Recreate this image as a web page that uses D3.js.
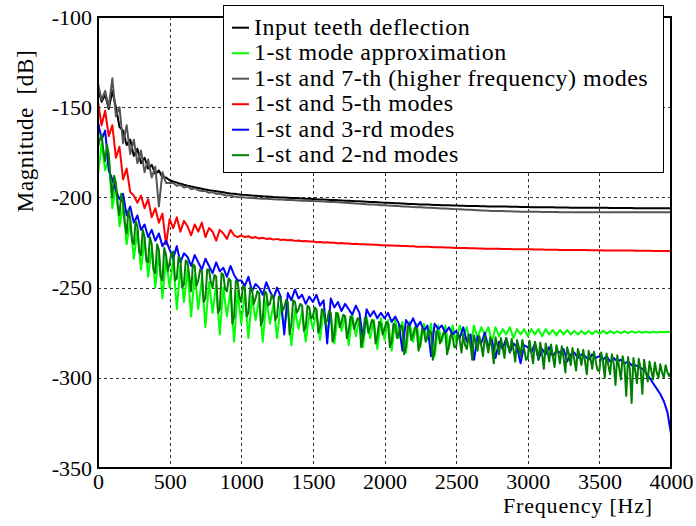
<!DOCTYPE html>
<html>
<head>
<meta charset="utf-8">
<script src="https://cdn.jsdelivr.net/npm/d3@7"></script>
<style>
    body { margin: 0; background: #fff; }
    svg text { font-family: "Liberation Serif", "DejaVu Serif", "Noto Serif", "Times New Roman", serif; fill: #000; }
</style>
</head>
<body>
<div id="chart"></div>
<script>
// frequency grids of the spectra (Hz)
const freq = d3.range(0, 4001, 25);       // one sample every 25 Hz
const freqFine = d3.range(0, 4001, 12.5); // denser grid for the 1-st + 2-nd modes curve

// magnitude values in dB, one row per 500 Hz
const inputDeflection = [
    -139,-147,-143,-151,-141,-150,-161,-163,-171,-168,-177,-173,-181,-178,-184,-182,-187,-185,-189,-189,
    -190.5,-191.2,-191.8,-192.4,-193,-193.5,-194,-194.4,-194.8,-195.2,-195.6,-196,-196.3,-196.6,-196.9,-197.2,-197.5,-197.8,-198,-198.3,
    -198.5,-198.6,-198.8,-199,-199.1,-199.2,-199.4,-199.5,-199.6,-199.8,-199.9,-200,-200.1,-200.2,-200.3,-200.4,-200.5,-200.6,-200.7,-200.8,
    -200.9,-201,-201.1,-201.2,-201.3,-201.4,-201.5,-201.6,-201.7,-201.8,-201.9,-202,-202.1,-202.2,-202.3,-202.4,-202.5,-202.6,-202.7,-202.8,
    -202.9,-203,-203.1,-203.2,-203.3,-203.4,-203.5,-203.6,-203.7,-203.8,-203.9,-204,-204,-204.1,-204.2,-204.2,-204.3,-204.4,-204.4,-204.5,
    -204.5,-204.6,-204.6,-204.7,-204.7,-204.8,-204.8,-204.9,-204.9,-205,-205,-205,-205.1,-205.1,-205.1,-205.2,-205.2,-205.2,-205.3,-205.3,
    -205.3,-205.4,-205.4,-205.4,-205.5,-205.5,-205.5,-205.5,-205.6,-205.6,-205.6,-205.6,-205.7,-205.7,-205.7,-205.7,-205.7,-205.8,-205.8,-205.8,
    -205.8,-205.8,-205.8,-205.9,-205.9,-205.9,-205.9,-205.9,-205.9,-205.9,-206,-206,-206,-206,-206,-206,-206,-206,-206,-206,
    -206
];

const mode1 = [
    -188,-170,-185,-178,-206,-194,-216,-205,-226,-213,-234,-218,-240,-223,-244,-228,-250,-231,-256,-234,
    -250,-234,-262,-238,-258,-240,-266,-243,-262,-245,-272,-247,-264,-248,-276,-250,-266,-251,-280,-252,
    -270,-253,-278,-255,-268,-256,-280,-257,-270,-259,-278,-260,-272,-261,-282,-262,-273,-263,-280,-264,
    -273,-263,-279,-262,-275,-265,-281,-264,-274,-266,-282,-265,-277,-267,-283,-266,-278,-268,-284,-267,
    -279,-268,-285,-268,-278,-269,-286,-269,-280,-270,-283,-270,-279,-270,-288,-271,-280,-271,-284,-271,
    -280,-271,-277,-272,-283,-271,-278,-272,-276,-272,-280,-272,-277,-273,-276,-272,-278,-273,-276,-273,
    -277,-273,-276,-273,-277,-273,-276,-273.5,-276.5,-273.5,-276,-273.5,-276,-274,-276,-274,-275.8,-274,-275.8,-274,
    -275.6,-274,-275.5,-274.1,-275.4,-274.2,-275.3,-274.2,-275.2,-274.3,-275.1,-274.3,-275,-274.4,-275,-274.4,-274.9,-274.5,-274.8,-274.5,
    -274.6
];

const modes17 = [
    -137,-146,-141,-150,-134,-155,-150,-170,-160,-176,-168,-181,-174,-186,-179,-189,-183,-205,-186,-192,
    -192,-192,-193.5,-193,-194.5,-194,-195.5,-195,-196,-196.5,-196.5,-197.5,-197,-198,-198,-198.5,-199,-199,-199.5,-199.8,
    -199.9,-200.1,-200.2,-200.4,-200.5,-200.6,-200.7,-200.8,-200.9,-201,-201.1,-201.2,-201.3,-201.4,-201.5,-201.6,-201.7,-201.8,-201.9,-202,
    -202,-202.1,-202.2,-202.3,-202.4,-202.5,-202.6,-202.7,-202.8,-203,-203.1,-203.2,-203.4,-203.5,-203.6,-203.8,-203.9,-204,-204.1,-204.3,
    -204.4,-204.5,-204.6,-204.7,-204.8,-205,-205.1,-205.2,-205.3,-205.4,-205.5,-205.6,-205.7,-205.8,-205.9,-206,-206.1,-206.2,-206.3,-206.4,
    -206.5,-206.6,-206.7,-206.8,-206.9,-207,-207.1,-207.2,-207.3,-207.4,-207.5,-207.5,-207.6,-207.6,-207.7,-207.7,-207.8,-207.8,-207.9,-207.9,
    -208,-208,-208,-208,-208.1,-208.1,-208.1,-208.1,-208.1,-208.2,-208.2,-208.2,-208.2,-208.2,-208.2,-208.2,-208.2,-208.2,-208.2,-208.2,
    -208.3,-208.3,-208.3,-208.3,-208.3,-208.3,-208.3,-208.3,-208.3,-208.3,-208.3,-208.3,-208.3,-208.3,-208.3,-208.3,-208.3,-208.3,-208.3,-208.3,
    -208.3
];

const modes15 = [
    -147,-160,-152,-166,-160,-178,-172,-190,-184,-197,-199,-203,-199,-206,-201,-211,-206,-214,-209,-226,
    -212,-217,-211,-219,-213,-216,-221,-215,-219,-214,-222,-217,-219,-224,-218,-220,-223,-218,-221,-222,
    -221,-222,-221.5,-222.5,-222,-222.8,-222.4,-223,-222.8,-223.4,-223,-223.6,-223.4,-223.8,-223.6,-224.1,-223.9,-224.3,-224.2,-224.5,
    -224.5,-224.8,-224.7,-225,-224.9,-225.2,-225.1,-225.4,-225.3,-225.6,-225.5,-225.8,-225.7,-226,-225.9,-226.1,-226.1,-226.3,-226.3,-226.5,
    -226.5,-226.7,-226.6,-226.8,-226.8,-227,-227,-227.1,-227.1,-227.3,-227.3,-227.4,-227.4,-227.5,-227.6,-227.7,-227.7,-227.8,-227.8,-227.9,
    -228,-228,-228.1,-228.1,-228.2,-228.2,-228.3,-228.3,-228.4,-228.4,-228.5,-228.5,-228.5,-228.6,-228.6,-228.6,-228.7,-228.7,-228.7,-228.8,
    -228.8,-228.8,-228.9,-228.9,-228.9,-229,-229,-229,-229,-229.1,-229.1,-229.1,-229.1,-229.2,-229.2,-229.2,-229.2,-229.3,-229.3,-229.3,
    -229.3,-229.4,-229.4,-229.4,-229.4,-229.5,-229.5,-229.5,-229.5,-229.5,-229.6,-229.6,-229.6,-229.6,-229.6,-229.7,-229.7,-229.7,-229.7,-229.7,
    -229.8
];

const modes13 = [
    -158,-168,-163,-185,-190,-196,-201,-198,-210,-205,-214,-210,-218,-215,-222,-218,-224,-220,-227,-224,
    -229,-234,-227,-236,-231,-233,-238,-232,-236,-240,-234,-238,-242,-236,-241,-239,-244,-238,-243,-246,
    -246,-249,-244,-252,-248,-250,-254,-247,-252,-256,-250,-255,-276,-253,-257,-251,-256,-254,-259,-255,
    -258,-254,-260,-257,-281,-256,-261,-258,-263,-259,-262,-265,-260,-264,-278,-262,-266,-263,-267,-264,
    -267,-264,-269,-266,-270,-285,-268,-271,-267,-272,-269,-274,-271,-288,-270,-273,-271,-275,-272,-276,
    -274,-278,-272,-280,-276,-290,-277,-281,-275,-283,-279,-289,-280,-284,-278,-286,-281,-283,-292,-282,
    -283,-286,-281,-290,-284,-287,-283,-288,-285,-286,-284,-291,-287,-286,-289,-287,-288,-290,-287,-289,
    -288,-290,-288,-291,-289,-291,-290,-292,-291,-293,-293,-294,-295,-297,-300,-303,-306,-309,-313,-319,
    -331
];

// sampled on freqFine, one row per 500 Hz
const modes12 = [
    -172,-168,-165,-174,-180,-171,-176,-190,-200,-188,-192,-204,-210,-198,-203,-214,-220,-207,-212,-224,
    -226,-213,-216,-230,-232,-218,-222,-235,-236,-222,-226,-240,-242,-226,-229,-244,-246,-228,-232,-241,
    -236,-231,-230,-246,-245,-233,-234,-250,-248,-235,-236,-244,-252,-237,-238,-249,-246,-240,-241,-258,
    -256,-240,-240,-247,-250,-243,-244,-264,-262,-242,-243,-251,-252,-245,-246,-270,-266,-246,-247,-255,
    -258,-249,-250,-266,-264,-250,-251,-259,-256,-252,-253,-271,-268,-252,-253,-260,-259,-254,-255,-268,
    -266,-255,-256,-263,-261,-257,-258,-276,-270,-257,-258,-264,-262,-259,-260,-274,-272,-260,-261,-267,
    -266,-261,-262,-275,-272,-262,-263,-270,-268,-263,-264,-280,-276,-264,-265,-272,-269,-265,-266,-278,
    -274,-266,-267,-273,-270,-267,-268,-283,-278,-267,-268,-275,-272,-268,-269,-281,-277,-269,-270,-276,
    -273,-269,-270,-283,-280,-270,-271,-278,-275,-271,-272,-287,-283,-271,-272,-279,-276,-272,-273,-285,
    -281,-273,-274,-280,-277,-274,-275,-290,-285,-274,-275,-281,-278,-275,-276,-287,-282,-276,-277,-283,
    -283,-275,-279,-286,-276,-282,-284,-276,-281,-290,-276.5,-280,-285,-277,-282,-288,-277,-281,-286,-277.5,
    -283,-292,-277.5,-282,-287,-278,-283,-289,-278,-282,-286,-278.5,-284,-291,-279,-283,-288,-279,-284,-290,
    -289,-279.5,-286,-292,-280,-284,-290,-280.5,-287,-295,-281,-285,-291,-281.5,-288,-294,-282,-286,-292,-282.5,
    -289,-297,-283,-287,-293,-283.5,-290,-296,-284,-288,-293,-284.5,-291,-298,-285,-289,-295,-285.5,-291,-296,
    -296,-286,-291,-300,-286.5,-293,-298,-287,-292,-304,-287.5,-294,-301,-288,-293,-310,-288.5,-295,-314,-289,
    -296,-303,-289.5,-295,-309,-290,-297,-302,-291,-296,-301,-291.5,-297,-300,-292.5,-297,-300,-293,-297,-299,
    -297
];

const seriesNames = [
    "Input teeth deflection",
    "1-st mode approximation",
    "1-st and 7-th (higher frequency) modes",
    "1-st and 5-th modes",
    "1-st and 3-rd modes",
    "1-st and 2-nd modes"
];
const seriesValues = [inputDeflection, mode1, modes17, modes15, modes13, modes12];
const seriesFreqs = [freq, freq, freq, freq, freq, freqFine];
const seriesColors = ["#000000", "#00ff00", "#555555", "#ff0000", "#0000ff", "#007f00"];

const xTicks = [0, 500, 1000, 1500, 2000, 2500, 3000, 3500, 4000];
const yTicks = [-350, -300, -250, -200, -150, -100];

// layout
const width = 696, height = 526;
const plot = {left: 98, right: 671, top: 17, bottom: 468};
const fontStack = '"Liberation Serif", "DejaVu Serif", "Noto Serif", "Times New Roman", serif';

const svg = d3.select("#chart").append("svg")
    .attr("width", width)
    .attr("height", height);

const x = d3.scaleLinear().domain([0, 4000]).range([plot.left, plot.right]);
const y = d3.scaleLinear().domain([-350, -100]).range([plot.bottom, plot.top]);

// dashed grid
const grid = svg.append("g").attr("stroke", "#333").attr("stroke-width", 1).attr("stroke-dasharray", "3,3");
grid.selectAll(".vgrid")
    .data(xTicks.slice(1, -1))
    .enter().append("line")
    .attr("x1", d => Math.round(x(d)) + 0.5).attr("x2", d => Math.round(x(d)) + 0.5)
    .attr("y1", plot.top).attr("y2", plot.bottom);
grid.selectAll(".hgrid")
    .data(yTicks.slice(1, -1))
    .enter().append("line")
    .attr("y1", d => Math.round(y(d)) + 0.5).attr("y2", d => Math.round(y(d)) + 0.5)
    .attr("x1", plot.left).attr("x2", plot.right);

// clip for spectra
svg.append("clipPath").attr("id", "clip")
    .append("rect")
    .attr("x", plot.left).attr("y", plot.top)
    .attr("width", plot.right - plot.left).attr("height", plot.bottom - plot.top);

const line = d3.line()
    .x(d => x(d[0]))
    .y(d => y(d[1]));

svg.append("g").attr("clip-path", "url(#clip)")
    .selectAll(".spectrum")
    .data(seriesValues)
    .enter().append("path")
    .attr("class", "spectrum")
    .attr("d", (vals, k) => line(vals.map((v, i) => [seriesFreqs[k][i], v])))
    .attr("fill", "none")
    .attr("stroke", (d, i) => seriesColors[i])
    .attr("stroke-width", 2)
    .attr("stroke-linejoin", "round");

// axes
const xAxis = svg.append("g")
    .attr("transform", `translate(0,${plot.bottom})`)
    .call(d3.axisBottom(x).tickValues(xTicks).tickSize(0).tickPadding(5).tickFormat(d => String(d)));
const yAxis = svg.append("g")
    .attr("transform", `translate(${plot.left},0)`)
    .call(d3.axisLeft(y).tickValues(yTicks).tickSize(0).tickPadding(6).tickFormat(d => String(d)));
[xAxis, yAxis].forEach(a => {
    a.attr("font-family", fontStack).attr("font-size", 22);
    a.select(".domain").remove();
    a.selectAll("text").attr("fill", "#000");
});

// frame
svg.append("rect")
    .attr("x", plot.left).attr("y", plot.top)
    .attr("width", plot.right - plot.left).attr("height", plot.bottom - plot.top)
    .attr("fill", "none").attr("stroke", "#000").attr("stroke-width", 2);

// axis labels
svg.append("text")
    .attr("x", 578).attr("y", 513)
    .attr("text-anchor", "middle")
    .attr("font-family", fontStack)
    .style("font-size", "22px").style("letter-spacing", "0.8px")
    .text("Frequency [Hz]");

svg.append("text")
    .attr("transform", "translate(33,131) rotate(-90)")
    .attr("text-anchor", "middle")
    .attr("font-family", fontStack)
    .style("font-size", "23px").style("letter-spacing", "0.6px").style("white-space", "pre")
    .text("Magnitude  [dB]");

// legend
const legend = svg.append("g");
legend.append("rect")
    .attr("x", 223.5).attr("y", 5.5)
    .attr("width", 440).attr("height", 167)
    .attr("fill", "#fff").attr("stroke", "#000").attr("stroke-width", 1);

const rows = legend.selectAll(".entry")
    .data(seriesNames)
    .enter().append("g")
    .attr("class", "entry")
    .attr("transform", (d, i) => `translate(0,${27.7 + i * 25.5})`);
rows.append("line")
    .attr("x1", 232).attr("x2", 249)
    .attr("stroke", (d, i) => seriesColors[i])
    .attr("stroke-width", 2);
rows.append("text")
    .attr("x", 254).attr("y", 7)
    .attr("font-family", fontStack)
    .style("font-size", "24px").style("letter-spacing", "0.5px")
    .text(d => d);
</script>
</body>
</html>
